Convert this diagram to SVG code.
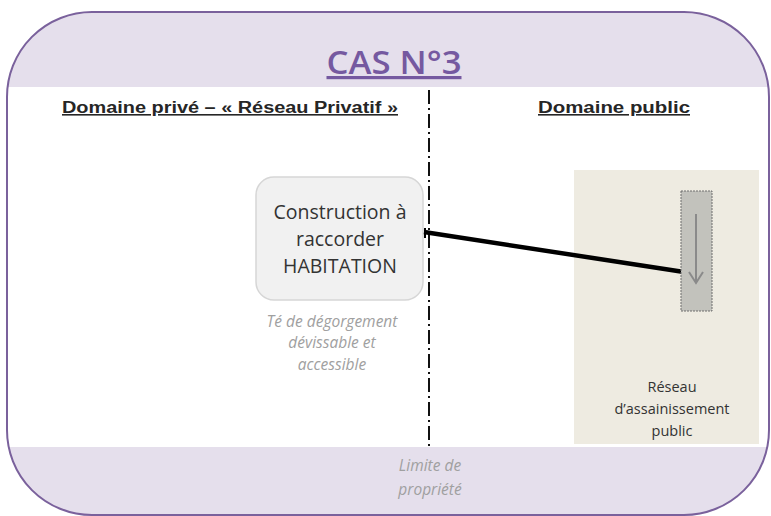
<svg xmlns="http://www.w3.org/2000/svg" width="771" height="516" viewBox="0 0 771 516">
<defs>
<style>
.t{font-family:"Open Sans","Liberation Sans",sans-serif}
.h{font-family:"Liberation Sans","Open Sans",sans-serif;font-weight:bold;font-size:16px;fill:#262626;text-decoration:underline}
.it{font-style:italic;font-size:15.5px;fill:#a0a0a0}
.n{font-size:19.5px;fill:#333}
.s{font-size:14.5px;fill:#333}
</style>
<clipPath id="c"><rect x="7" y="12" width="762" height="503" rx="85" ry="85"/></clipPath>
</defs>
<rect x="0" y="0" width="771" height="516" fill="#ffffff"/>
<g id="frame">
<rect x="7" y="12" width="762" height="503" rx="85" ry="85" fill="#e5dfec"/>
<rect x="7" y="87" width="762" height="360" fill="#ffffff" clip-path="url(#c)"/>
<rect x="7" y="12" width="762" height="503" rx="85" ry="85" fill="none" stroke="#7a619c" stroke-width="2"/>
</g>
<g id="title">
<text class="t" x="394" y="74" text-anchor="middle" font-size="32" font-weight="600" fill="#7559a0" text-decoration="underline" textLength="135" lengthAdjust="spacingAndGlyphs">CAS N°3</text>
</g>
<g id="headers">
<text class="h" x="62" y="113" textLength="336" lengthAdjust="spacingAndGlyphs">Domaine privé – « Réseau Privatif »</text>
<text class="h" x="538" y="113" textLength="152" lengthAdjust="spacingAndGlyphs">Domaine public </text>
</g>
<g id="public-zone">
<rect x="574" y="170" width="185" height="274" fill="#eeebe1"/>
<text class="t s" text-anchor="middle" x="672" y="392">Réseau</text>
<text class="t s" text-anchor="middle" x="672" y="414">d’assainissement</text>
<text class="t s" text-anchor="middle" x="672" y="436">public</text>
</g>
<g id="limit">
<line x1="429" y1="90" x2="429" y2="447" stroke="#111" stroke-width="2" stroke-dasharray="14,4,2,4"/>
<text class="t it" text-anchor="middle" x="430" y="471">Limite de</text>
<text class="t it" text-anchor="middle" x="430" y="495">propriété</text>
</g>
<g id="construction">
<rect x="256" y="177" width="167" height="123" rx="18" ry="18" fill="#f1f1f1" stroke="#d6d6d6" stroke-width="1.5"/>
<text class="t n" text-anchor="middle" x="340" y="219">Construction à</text>
<text class="t n" text-anchor="middle" x="340" y="246">raccorder</text>
<text class="t n" text-anchor="middle" x="340" y="273">HABITATION</text>
<text class="t it" text-anchor="middle" x="332" y="327">Té de dégorgement</text>
<text class="t it" text-anchor="middle" x="332" y="348">dévissable et</text>
<text class="t it" text-anchor="middle" x="332" y="370">accessible</text>
</g>
<g id="connectors">
<line x1="424" y1="232" x2="684" y2="272" stroke="#000" stroke-width="4.5"/>
<line x1="425" y1="228" x2="425" y2="238" stroke="#000" stroke-width="2"/>
</g>
<g id="pipe">
<rect x="681" y="191" width="31" height="120" fill="#c2c2bc" stroke="#6e6e6e" stroke-width="1" stroke-dasharray="2,1"/>
<line x1="696" y1="214" x2="696" y2="283" stroke="#8a8a8a" stroke-width="2"/>
<polyline points="689,272 696,283 703,272" fill="none" stroke="#8a8a8a" stroke-width="2"/>
</g>
</svg>
